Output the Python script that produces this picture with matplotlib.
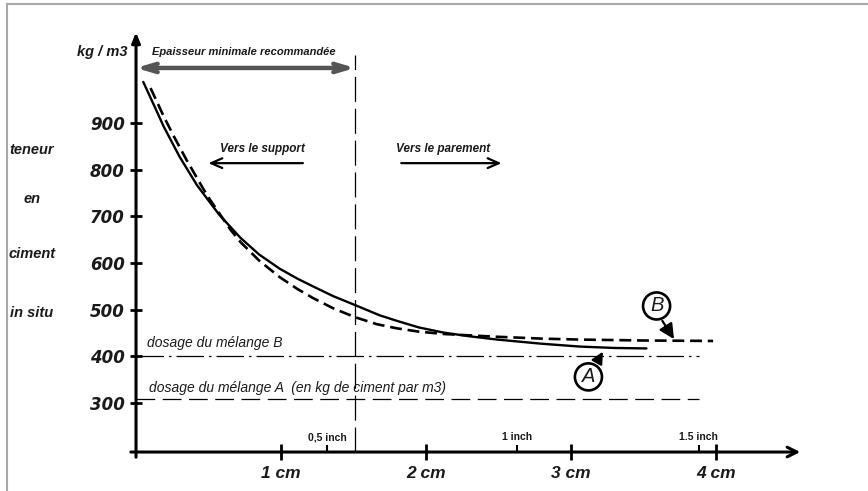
import matplotlib
matplotlib.use('Agg')
import matplotlib.pyplot as plt
from matplotlib.lines import Line2D

plt.rcParams['font.family'] = ['Liberation Sans', 'DejaVu Sans']

# courbe A (trait plein) et courbe B (tirets), epaisseur en cm / teneur kg/m3
x_a = [0.05, 0.13, 0.19, 0.30, 0.42, 0.57, 0.72, 0.85, 0.99, 1.11, 1.22, 1.36, 1.51,
       1.68, 1.80, 1.95, 2.12, 2.30, 2.49, 2.80, 3.06, 3.30, 3.52]
y_a = [988, 934, 893, 828, 767, 705, 654, 618, 588, 567, 550, 529, 510,
       488, 476, 462, 451, 443, 436, 427, 421, 418, 417]
x_b = [0.10, 0.19, 0.26, 0.35, 0.49, 0.65, 0.72, 0.85, 0.99, 1.11, 1.22, 1.36, 1.51,
       1.66, 1.80, 1.95, 2.12, 2.30, 2.49, 2.80, 3.06, 3.50, 3.98]
y_b = [975, 915, 872, 820, 745, 672, 645, 605, 570, 545, 525, 503, 484,
       469, 460, 453, 448, 445, 442, 438, 436, 434, 433]

dosage_b = 400
dosage_a = 309
dosage_end = 3.88
epaisseur_min = 1.51

y_ticks = [300, 400, 500, 600, 700, 800, 900]
x_ticks = [1, 2, 3, 4]
x_tick_labels = ['1 cm', '2 cm', '3 cm', '4 cm']
inch_pos = [1.32, 2.63, 3.88]
inch_labels = ['0,5 inch', '1 inch', '1.5 inch']
left_labels = ['teneur', 'en', 'ciment', 'in situ']
left_label_y = [843, 738, 620, 492]

fig = plt.figure(figsize=(8.68, 4.91), dpi=100)
ax = fig.add_axes([0, 0, 1, 1])
ax.set_xlim(-0.938, 5.048)
ax.set_ylim(111.5, 1163.6)
ax.axis('off')

ink = '#1a1a1a'
bi = dict(fontweight='bold', fontstyle='italic', color=ink)

# cadre gris
fig.add_artist(Line2D([7 / 868, 1], [1 - 4 / 491, 1 - 4 / 491], color='#a8a8a8', lw=1.5))
fig.add_artist(Line2D([7 / 868, 7 / 868], [0, 1 - 4 / 491], color='#a8a8a8', lw=1.5))

# axes
y0 = 195
ax.annotate('', xy=(0, 1100), xytext=(0, 178),
            arrowprops=dict(arrowstyle='-|>,head_length=0.6,head_width=0.25', lw=2.2, color='black'))
ax.annotate('', xy=(4.6, y0), xytext=(-0.055, y0),
            arrowprops=dict(arrowstyle='->,head_length=0.7,head_width=0.35', lw=2.2, color='black'))
ax.plot([0] * len(y_ticks), y_ticks, ls='none', marker='_', ms=9, mew=2, color='black')
ax.plot(x_ticks, [y0] * len(x_ticks), ls='none', marker='|', ms=11, mew=2, color='black')
ax.plot(inch_pos, [y0 + 6] * len(inch_pos), ls='none', marker='|', ms=6, mew=1.5, color='black')

for v in y_ticks:
    ax.text(-0.076, v - 4, str(v), ha='right', va='center', fontsize=12,
            family='DejaVu Sans', **bi)
for v, lab in zip(x_ticks, x_tick_labels):
    ax.text(v, 150, lab, ha='center', va='center', fontsize=12.5, **bi)
for v, lab in zip(inch_pos, inch_labels):
    ax.text(v, 227, lab, ha='center', va='center', fontsize=7.5, fontweight='bold',
            color=ink, fontstretch='condensed')
for v, lab in zip(left_label_y, left_labels):
    ax.text(-0.717, v, lab, ha='center', va='center', fontsize=10.5, **bi)
ax.text(-0.06, 1052, 'kg / m3', ha='right', va='center', fontsize=10.5, **bi)

# epaisseur minimale
ax.plot([epaisseur_min, epaisseur_min], [y0, 1045], color='black', lw=0.9, dashes=(20, 5.5))
ax.annotate('', xy=(0, 1018), xytext=(epaisseur_min, 1018),
            arrowprops=dict(arrowstyle='<->,head_length=1.0,head_width=0.3', lw=3.2,
                            color='#555555', shrinkA=0, shrinkB=0))
ax.plot([0.05, epaisseur_min - 0.05], [1018, 1018], color='white', lw=1.6)
ax.text(0.74, 1052, 'Epaisseur minimale recommandée', ha='center', va='center',
        fontsize=8, **bi)

# sens
ax.text(0.87, 844, 'Vers le support', ha='center', va='center', fontsize=8.5, **bi)
ax.annotate('', xy=(0.48, 814), xytext=(1.17, 814),
            arrowprops=dict(arrowstyle='->,head_length=0.8,head_width=0.35', lw=1.6, color='black'))
ax.text(2.12, 844, 'Vers le parement', ha='center', va='center', fontsize=8.5, **bi)
ax.annotate('', xy=(2.54, 814), xytext=(1.81, 814),
            arrowprops=dict(arrowstyle='->,head_length=0.8,head_width=0.35', lw=1.6, color='black'))

# dosages
ax.plot([0, dosage_end], [dosage_b, dosage_b], color='black', lw=0.9, dashes=(22, 4, 2, 4))
ax.plot([0, dosage_end], [dosage_a, dosage_a], color='black', lw=0.9, dashes=(15, 6))
ax.text(0.076, 429, 'dosage du mélange B', ha='left', va='center', fontsize=10,
        fontstyle='italic', color=ink)
ax.text(0.09, 332, 'dosage du mélange A  (en kg de ciment par m3)', ha='left', va='center',
        fontsize=10, fontstyle='italic', color=ink)

# courbes
ax.plot(x_a, y_a, color='black', lw=1.7, solid_capstyle='round', solid_joinstyle='round')
ax.plot(x_b, y_b, color='black', lw=1.9, dashes=(4.5, 2.2))

# reperes A / B
circ = dict(boxstyle='circle,pad=0.2', fc='white', ec='black', lw=1.9)
ax.text(3.12, 356, 'A', ha='center', va='center', fontsize=14.5, fontstyle='italic',
        color=ink, bbox=circ)
ax.annotate('', xy=(3.22, 410), xytext=(3.18, 388),
            arrowprops=dict(arrowstyle='-|>,head_length=0.7,head_width=0.35', lw=1.6,
                            color='black', shrinkA=0, shrinkB=0))
ax.text(3.59, 508, 'B', ha='center', va='center', fontsize=14.5, fontstyle='italic',
        color=ink, bbox=circ)
ax.annotate('', xy=(3.71, 437), xytext=(3.63, 476),
            arrowprops=dict(arrowstyle='-|>,head_length=0.9,head_width=0.45', lw=1.6,
                            color='black', shrinkA=0, shrinkB=0))

fig.savefig('out.png', dpi=100)
